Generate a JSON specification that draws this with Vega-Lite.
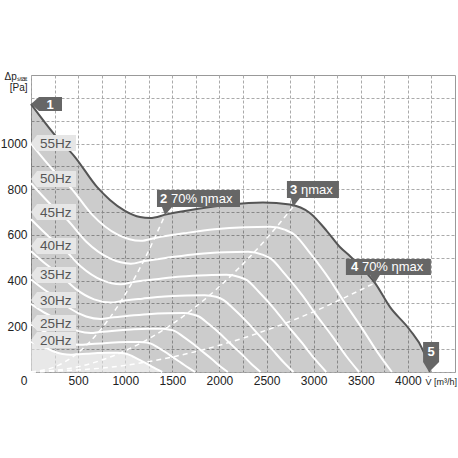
{
"$schema":"https://vega.github.io/schema/vega-lite/v6.json",
"width":424,"height":297,
"autosize":{"type":"none"},
"padding":{"left":31,"top":75,"right":3,"bottom":86},
"background":"white",
"config":{"view":{"stroke":"#999","strokeWidth":1},"font":"Liberation Sans",
"axis":{"domain":false,"ticks":false,"grid":true,"gridColor":"#aaa","gridDash":[3,2],"gridWidth":1,"labelFont":"Liberation Sans","labelFontSize":12,"labelColor":"#222","titleFont":"Liberation Sans","titleFontWeight":"normal","titleColor":"#222"}},
"datasets":{
"env":[{"V":0,"P":1173},{"V":255,"P":1037},{"V":467,"P":941},{"V":700,"P":810},{"V":838,"P":753},{"V":997,"P":705},{"V":1157,"P":678},{"V":1263,"P":674},{"V":1440,"P":690},{"V":1758,"P":713},{"V":2111,"P":733},{"V":2462,"P":742},{"V":2748,"P":733},{"V":2960,"P":696},{"V":3140,"P":617},{"V":3278,"P":547},{"V":3384,"P":508},{"V":3512,"P":455},{"V":3650,"P":390},{"V":3809,"P":285},{"V":4021,"P":184},{"V":4159,"P":96},{"V":4212,"P":39},{"V":4233,"P":0}],
"freq":[
{"f":"55Hz","V":0,"P":1000},{"f":"55Hz","V":235,"P":884},{"f":"55Hz","V":431,"P":802},{"f":"55Hz","V":646,"P":690},{"f":"55Hz","V":920,"P":601},{"f":"55Hz","V":1166,"P":574},{"f":"55Hz","V":1329,"P":588},{"f":"55Hz","V":1623,"P":607},{"f":"55Hz","V":1948,"P":625},{"f":"55Hz","V":2272,"P":634},{"f":"55Hz","V":2536,"P":636},{"f":"55Hz","V":2700,"P":622},{"f":"55Hz","V":2800,"P":600},{"f":"55Hz","V":2960,"P":521},{"f":"55Hz","V":3172,"P":403},{"f":"55Hz","V":3310,"P":315},{"f":"55Hz","V":3516,"P":190},{"f":"55Hz","V":3680,"P":85},{"f":"55Hz","V":3830,"P":0},
{"f":"50Hz","V":0,"P":826},{"f":"50Hz","V":214,"P":731},{"f":"50Hz","V":392,"P":663},{"f":"50Hz","V":587,"P":570},{"f":"50Hz","V":836,"P":497},{"f":"50Hz","V":1060,"P":474},{"f":"50Hz","V":1208,"P":486},{"f":"50Hz","V":1475,"P":502},{"f":"50Hz","V":1771,"P":517},{"f":"50Hz","V":2065,"P":524},{"f":"50Hz","V":2305,"P":526},{"f":"50Hz","V":2455,"P":514},{"f":"50Hz","V":2545,"P":496},{"f":"50Hz","V":2691,"P":431},{"f":"50Hz","V":2884,"P":333},{"f":"50Hz","V":3009,"P":260},{"f":"50Hz","V":3196,"P":157},{"f":"50Hz","V":3345,"P":70},{"f":"50Hz","V":3482,"P":0},
{"f":"45Hz","V":0,"P":669},{"f":"45Hz","V":192,"P":592},{"f":"45Hz","V":353,"P":537},{"f":"45Hz","V":529,"P":462},{"f":"45Hz","V":753,"P":402},{"f":"45Hz","V":954,"P":384},{"f":"45Hz","V":1087,"P":394},{"f":"45Hz","V":1328,"P":406},{"f":"45Hz","V":1594,"P":418},{"f":"45Hz","V":1859,"P":424},{"f":"45Hz","V":2075,"P":426},{"f":"45Hz","V":2209,"P":416},{"f":"45Hz","V":2291,"P":402},{"f":"45Hz","V":2422,"P":349},{"f":"45Hz","V":2595,"P":270},{"f":"45Hz","V":2708,"P":211},{"f":"45Hz","V":2877,"P":127},{"f":"45Hz","V":3011,"P":57},{"f":"45Hz","V":3134,"P":0},
{"f":"40Hz","V":0,"P":529},{"f":"40Hz","V":171,"P":468},{"f":"40Hz","V":313,"P":424},{"f":"40Hz","V":470,"P":365},{"f":"40Hz","V":669,"P":318},{"f":"40Hz","V":848,"P":304},{"f":"40Hz","V":967,"P":311},{"f":"40Hz","V":1180,"P":321},{"f":"40Hz","V":1417,"P":331},{"f":"40Hz","V":1652,"P":335},{"f":"40Hz","V":1844,"P":336},{"f":"40Hz","V":1964,"P":329},{"f":"40Hz","V":2036,"P":317},{"f":"40Hz","V":2153,"P":276},{"f":"40Hz","V":2307,"P":213},{"f":"40Hz","V":2407,"P":167},{"f":"40Hz","V":2557,"P":100},{"f":"40Hz","V":2676,"P":45},{"f":"40Hz","V":2786,"P":0},
{"f":"35Hz","V":0,"P":405},{"f":"35Hz","V":150,"P":358},{"f":"35Hz","V":274,"P":325},{"f":"35Hz","V":411,"P":279},{"f":"35Hz","V":585,"P":243},{"f":"35Hz","V":742,"P":232},{"f":"35Hz","V":846,"P":238},{"f":"35Hz","V":1033,"P":246},{"f":"35Hz","V":1240,"P":253},{"f":"35Hz","V":1446,"P":257},{"f":"35Hz","V":1614,"P":258},{"f":"35Hz","V":1718,"P":252},{"f":"35Hz","V":1782,"P":243},{"f":"35Hz","V":1884,"P":211},{"f":"35Hz","V":2019,"P":163},{"f":"35Hz","V":2106,"P":128},{"f":"35Hz","V":2238,"P":77},{"f":"35Hz","V":2342,"P":34},{"f":"35Hz","V":2437,"P":0},
{"f":"30Hz","V":0,"P":298},{"f":"30Hz","V":128,"P":263},{"f":"30Hz","V":235,"P":239},{"f":"30Hz","V":352,"P":205},{"f":"30Hz","V":502,"P":179},{"f":"30Hz","V":636,"P":171},{"f":"30Hz","V":725,"P":175},{"f":"30Hz","V":885,"P":181},{"f":"30Hz","V":1063,"P":186},{"f":"30Hz","V":1239,"P":189},{"f":"30Hz","V":1383,"P":189},{"f":"30Hz","V":1473,"P":185},{"f":"30Hz","V":1527,"P":179},{"f":"30Hz","V":1615,"P":155},{"f":"30Hz","V":1730,"P":120},{"f":"30Hz","V":1806,"P":94},{"f":"30Hz","V":1918,"P":57},{"f":"30Hz","V":2007,"P":25},{"f":"30Hz","V":2089,"P":0},
{"f":"25Hz","V":0,"P":207},{"f":"25Hz","V":107,"P":183},{"f":"25Hz","V":196,"P":166},{"f":"25Hz","V":294,"P":143},{"f":"25Hz","V":418,"P":124},{"f":"25Hz","V":530,"P":119},{"f":"25Hz","V":604,"P":121},{"f":"25Hz","V":738,"P":125},{"f":"25Hz","V":885,"P":129},{"f":"25Hz","V":1033,"P":131},{"f":"25Hz","V":1153,"P":131},{"f":"25Hz","V":1227,"P":129},{"f":"25Hz","V":1273,"P":124},{"f":"25Hz","V":1345,"P":108},{"f":"25Hz","V":1442,"P":83},{"f":"25Hz","V":1504,"P":65},{"f":"25Hz","V":1598,"P":39},{"f":"25Hz","V":1673,"P":18},{"f":"25Hz","V":1741,"P":0},
{"f":"20Hz","V":0,"P":132},{"f":"20Hz","V":85,"P":117},{"f":"20Hz","V":157,"P":106},{"f":"20Hz","V":235,"P":91},{"f":"20Hz","V":335,"P":79},{"f":"20Hz","V":424,"P":76},{"f":"20Hz","V":483,"P":78},{"f":"20Hz","V":590,"P":80},{"f":"20Hz","V":708,"P":83},{"f":"20Hz","V":826,"P":84},{"f":"20Hz","V":922,"P":84},{"f":"20Hz","V":982,"P":82},{"f":"20Hz","V":1018,"P":79},{"f":"20Hz","V":1076,"P":69},{"f":"20Hz","V":1153,"P":53},{"f":"20Hz","V":1204,"P":42},{"f":"20Hz","V":1278,"P":25},{"f":"20Hz","V":1338,"P":11},{"f":"20Hz","V":1393,"P":0}],
"sys":[
{"id":"2","V":0,"P":0},{"id":"2","V":300,"P":31},{"id":"2","V":600,"P":122},{"id":"2","V":900,"P":275},{"id":"2","V":1200,"P":490},{"id":"2","V":1422,"P":687},
{"id":"3","V":0,"P":0},{"id":"3","V":500,"P":23},{"id":"3","V":1000,"P":93},{"id":"3","V":1500,"P":210},{"id":"3","V":2000,"P":374},{"id":"3","V":2500,"P":584},{"id":"3","V":2780,"P":722},
{"id":"4","V":0,"P":0},{"id":"4","V":1000,"P":29},{"id":"4","V":2000,"P":117},{"id":"4","V":2500,"P":183},{"id":"4","V":3000,"P":264},{"id":"4","V":3650,"P":390}],
"flab":[{"f":"55Hz","V":0,"P":1002},{"f":"50Hz","V":0,"P":845},{"f":"45Hz","V":0,"P":700},{"f":"40Hz","V":0,"P":552},{"f":"35Hz","V":0,"P":425},{"f":"30Hz","V":0,"P":315},{"f":"25Hz","V":0,"P":214},{"f":"20Hz","V":0,"P":140}],
"pts":[{"id":"1","V":0,"P":1173,"num":"1","txt":""},{"id":"2","V":1422,"P":687,"num":"2","txt":"70% ηmax"},{"id":"3","V":2780,"P":722,"num":"3","txt":"ηmax"},{"id":"4","V":3650,"P":390,"num":"4","txt":"70% ηmax"},{"id":"5","V":4225,"P":0,"num":"5","txt":""}]
},
"encoding":{
"x":{"field":"V","type":"quantitative","scale":{"domain":[0,4500],"nice":false,"zero":false},
"axis":{"values":[0,250,500,750,1000,1250,1500,1750,2000,2250,2500,2750,3000,3250,3500,3750,4000,4250],"format":"d","labelExpr":"datum.value % 500 == 0 && datum.value <= 4000 ? datum.label : ''","labelAlign":{"condition":{"test":"datum.value == 0","value":"right"},"value":"center"},"labelOffset":{"condition":{"test":"datum.value == 0","value":-4},"value":0},"labelPadding":3,"labelOverlap":false,"labelFlush":false,"title":"V̇ [m³/h]","titleX":394,"titleY":12,"titleAlign":"left","titleBaseline":"alphabetic","titleFontSize":9}},
"y":{"field":"P","type":"quantitative","scale":{"domain":[0,1300],"nice":false},
"axis":{"values":[0,100,200,300,400,500,600,700,800,900,1000,1100,1200],"format":"d","labelExpr":"datum.value >= 200 && datum.value <= 1000 && datum.value % 200 == 0 ? datum.label : ''","labelPadding":4,"labelOverlap":false,"title":["Δpₛₜₐₜ","[Pa]"],"titleAngle":0,"titleAlign":"right","titleBaseline":"top","titleX":-4,"titleY":-4,"titleFontSize":10,"titleLineHeight":11}}
},
"layer":[
{"data":{"name":"env"},"mark":{"type":"area","interpolate":"monotone","fill":"#000","fillOpacity":0.2}},
{"data":{"name":"freq"},"transform":[{"filter":"datum.f == '20Hz'"}],"mark":{"type":"area","interpolate":"monotone","fill":"#fff","fillOpacity":0.55}},
{"data":{"name":"freq"},"mark":{"type":"line","interpolate":"monotone","color":"#fff","strokeWidth":2},"encoding":{"detail":{"field":"f"}}},
{"data":{"name":"sys"},"mark":{"type":"line","interpolate":"monotone","color":"#fff","strokeWidth":1.5,"strokeDash":[5,4]},"encoding":{"detail":{"field":"id"}}},
{"data":{"name":"env"},"mark":{"type":"line","interpolate":"monotone","color":"#555","strokeWidth":2}},
{"data":{"name":"flab"},"mark":{"type":"point","shape":"M0,0L6,-8L45,-8L45,8L6,8Z","size":4,"filled":true,"color":"#e6e6e6","opacity":1,"strokeWidth":0}},
{"data":{"name":"flab"},"mark":{"type":"text","align":"left","baseline":"middle","dx":9,"dy":0.5,"fontSize":13.5,"color":"#555"},"encoding":{"text":{"field":"f"}}},
{"data":{"name":"pts"},"mark":{"type":"point","size":4,"filled":true,"color":"#666","opacity":1,"strokeWidth":0},"encoding":{"shape":{"field":"id","type":"nominal","scale":{"domain":["1","2","3","4","5"],"range":["M0,0L8,-7L31,-7L31,7L8,7Z","M0,0L-3,-8L-8,-8L-8,-25L75,-25L75,-8L7,-8Z","M0,0L-2,-9L-6,-9L-6,-26L46,-26L46,-9L7,-9Z","M0,0L-5,-8L-29,-8L-29,-24L56,-24L56,-8L5,-8Z","M0,0L-6,-10L-6,-30L10,-30L10,-10Z"]},"legend":null}}},
{"data":{"name":"pts"},"transform":[{"filter":"datum.id == '1'"}],"mark":{"type":"text","align":"center","baseline":"middle","dx":19,"dy":0.5,"fontSize":13,"fontWeight":"bold","color":"#fff"},"encoding":{"text":{"field":"num"}}},
{"data":{"name":"pts"},"transform":[{"filter":"datum.id == '2'"}],"mark":{"type":"text","align":"left","baseline":"middle","dx":-5,"dy":-16,"fontSize":13,"fontWeight":"bold","color":"#fff"},"encoding":{"text":{"field":"num"}}},
{"data":{"name":"pts"},"transform":[{"filter":"datum.id == '2'"}],"mark":{"type":"text","align":"left","baseline":"middle","dx":6,"dy":-16,"fontSize":13,"color":"#fff"},"encoding":{"text":{"field":"txt"}}},
{"data":{"name":"pts"},"transform":[{"filter":"datum.id == '3'"}],"mark":{"type":"text","align":"left","baseline":"middle","dx":-3,"dy":-17,"fontSize":13,"fontWeight":"bold","color":"#fff"},"encoding":{"text":{"field":"num"}}},
{"data":{"name":"pts"},"transform":[{"filter":"datum.id == '3'"}],"mark":{"type":"text","align":"left","baseline":"middle","dx":8,"dy":-17,"fontSize":13,"color":"#fff"},"encoding":{"text":{"field":"txt"}}},
{"data":{"name":"pts"},"transform":[{"filter":"datum.id == '4'"}],"mark":{"type":"text","align":"left","baseline":"middle","dx":-24,"dy":-15.5,"fontSize":13,"fontWeight":"bold","color":"#fff"},"encoding":{"text":{"field":"num"}}},
{"data":{"name":"pts"},"transform":[{"filter":"datum.id == '4'"}],"mark":{"type":"text","align":"left","baseline":"middle","dx":-13,"dy":-15.5,"fontSize":13,"color":"#fff"},"encoding":{"text":{"field":"txt"}}},
{"data":{"name":"pts"},"transform":[{"filter":"datum.id == '5'"}],"mark":{"type":"text","align":"center","baseline":"middle","dx":2,"dy":-20,"fontSize":13,"fontWeight":"bold","color":"#fff"},"encoding":{"text":{"field":"num"}}}
]
}
